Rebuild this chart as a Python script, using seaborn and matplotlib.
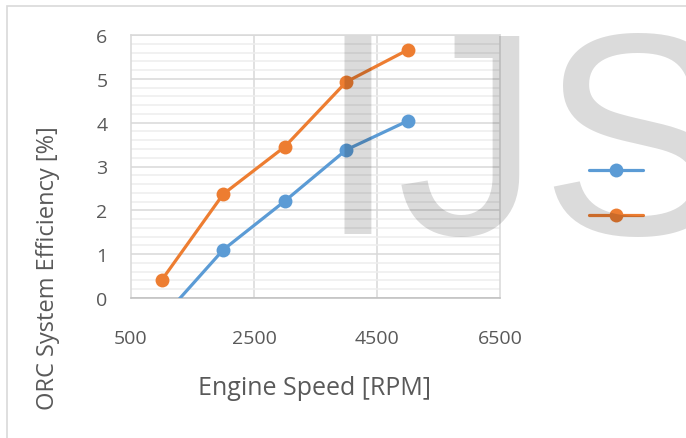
import pandas as pd
import matplotlib
matplotlib.use('Agg')
import matplotlib.pyplot as plt
from matplotlib.lines import Line2D
from matplotlib.patches import Rectangle
from matplotlib.ticker import MultipleLocator
import seaborn as sns

sns.set_style('white')
plt.rcParams['font.family'] = ['Open Sans', 'DejaVu Sans']

# values
engine_speed = [1000, 2000, 3000, 4000, 5000]
eff_blue = [-0.47, 1.10, 2.21, 3.38, 4.04]
eff_orange = [0.41, 2.37, 3.45, 4.93, 5.66]
series_names = ['blue', 'orange']
x_ticks = [500, 2500, 4500, 6500]

df = pd.DataFrame({
    'rpm': engine_speed * 2,
    'eff': eff_blue + eff_orange,
    'series': [series_names[0]] * 5 + [series_names[1]] * 5,
})
colors = ['#5b9bd5', '#ed7d31']
txt = '#595959'

fig = plt.figure(figsize=(6.86, 4.39), dpi=100)
ax = fig.add_axes([131/686, 1 - 299/439, 369/686, 263/439])

sns.lineplot(data=df, x='rpm', y='eff', hue='series', palette=colors,
             marker='o', markersize=10, markeredgewidth=0, linewidth=2.3,
             ax=ax, legend=False, zorder=3)

ax.set_xlim(500, 6500)
ax.set_ylim(0, 6)
ax.set_xticks(x_ticks)
ax.yaxis.set_major_locator(MultipleLocator(1))
ax.yaxis.set_minor_locator(MultipleLocator(0.2))
ax.grid(False)
ax.grid(which='major', axis='y', color='#d9d9d9', lw=1.1)
ax.grid(which='minor', axis='y', color='#eeeeee', lw=1.1)
for xv in [2500, 4500]:
    ax.axvline(xv, color='#d9d9d9', lw=1.1, zorder=0.5)
ax.set_axisbelow(True)
for s in ax.spines.values():
    s.set_color('#d9d9d9')
    s.set_linewidth(1.1)
ax.spines['bottom'].set_color('#bfbfbf')
ax.tick_params(length=0, labelsize=14, labelcolor=txt)
ax.tick_params(axis='y', pad=17)
ax.tick_params(axis='x', pad=22)
ax.set_xlabel('')
ax.set_ylabel('')

fig.text(314/686, 1 - 389/439, 'Engine Speed [RPM]', ha='center', va='center',
         fontsize=18, color=txt)
fig.text(48/686, 1 - 268/439, 'ORC System Efficiency [%]', ha='center', va='center',
         rotation=90, fontsize=17, color=txt)

# legend without labels
handles = [Line2D([], [], color=c, marker='o', markersize=10, markeredgewidth=0, lw=2.3)
           for c in colors]
fig.legend(handles, ['', ''], loc='center', bbox_to_anchor=(616/686, 1 - 195/439),
           frameon=False, handlelength=3.9, fontsize=10, labelspacing=2.2,
           handletextpad=0, borderpad=0)

# outer chart border
fig.patches.append(Rectangle((7/686, -0.1), 1.2, 1 - 7/439 + 0.1, transform=fig.transFigure,
                             fill=False, edgecolor='#d9d9d9', lw=1.2))

# watermark (cut off at the right edge, as in the reference)
fig.text(318/686, 1 - 234/439, 'IJS', ha='left', va='baseline', fontsize=207,
         family='Liberation Sans', color='black', alpha=0.14, zorder=10)

fig.savefig('out.png', dpi=100)
